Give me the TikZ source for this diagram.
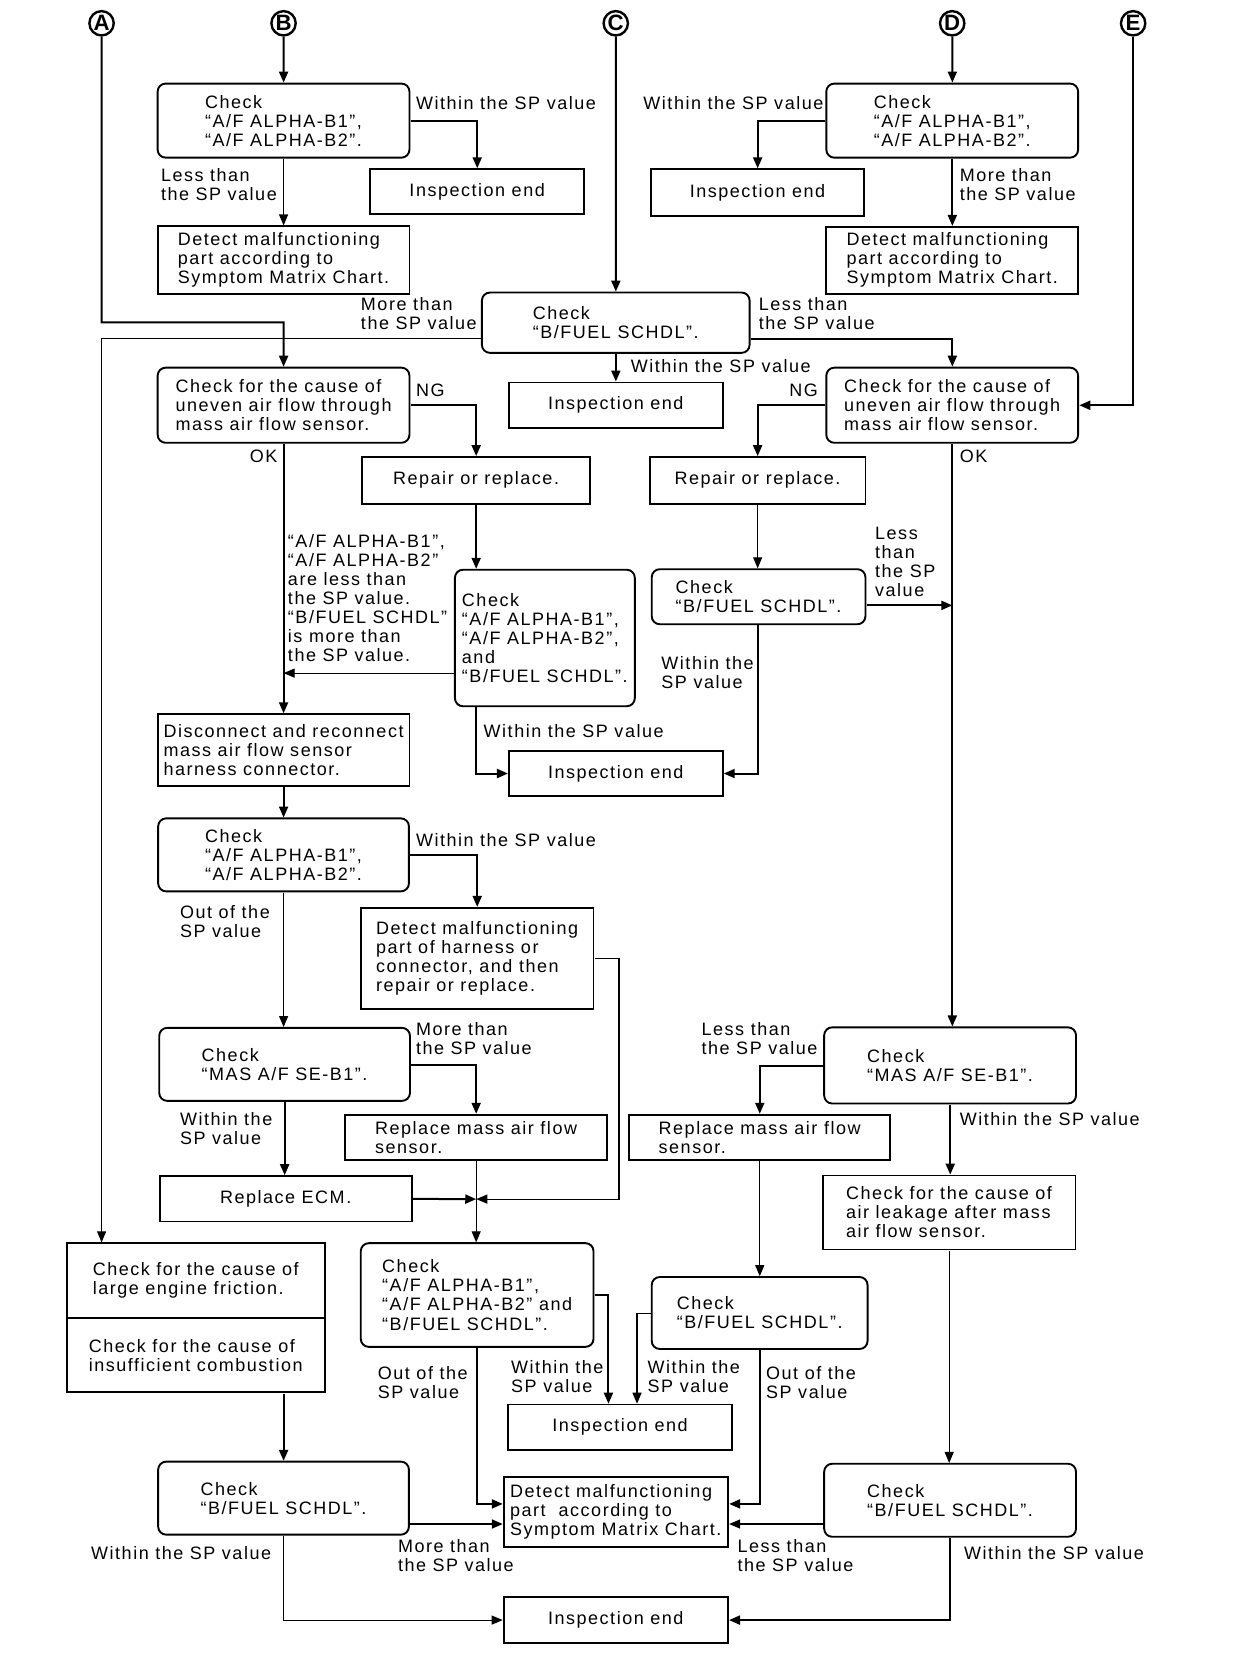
\documentclass[tikz,border=0pt]{standalone}
\usepackage{fontspec}
\setmainfont{Liberation Sans}[LetterSpace=8.5]
\usetikzlibrary{arrows.meta,calc}
\begin{document}
\begin{tikzpicture}[x=1pt,y=-1pt,scale=1.058,
  every node/.append style={transform shape},
  font=\fontsize{17}{18}\selectfont,
  box/.style={draw, line width=1.9pt, align=left, inner xsep=3pt, inner ysep=2pt},
  rbox/.style={box, rounded corners=8pt},
  lab/.style={anchor=north west, align=left, inner sep=0pt},
  arr/.style={line width=2pt, -{Triangle[length=11pt,width=9pt]}},
  tarr/.style={line width=1.1pt, -{Triangle[length=11pt,width=9pt]}},
  circ/.style={circle, draw, line width=2.4pt, minimum size=23pt, inner sep=0pt, font=\fontsize{21}{21}\selectfont\bfseries\addfontfeatures{LetterSpace=0}}]
\useasboundingbox (0,0) rectangle (1179.6,1567.1);
\fill[white] (0,0) rectangle (1179.6,1567.1);

% entry circles
\node[circ] (A) at (96,22) {A};
\node[circ] (B) at (268,22) {B};
\node[circ] (C) at (582,22) {C};
\node[circ] (D) at (900,22) {D};
\node[circ] (E) at (1071,22) {E};

% boxes
\node[rbox, minimum width=238, minimum height=70] (b1) at (268,114) {Check\\“A/F ALPHA-B1”,\\“A/F ALPHA-B2”.};
\node[box, minimum width=202, minimum height=42, align=center] (ie1) at (451,181) {Inspection end};
\node[box, minimum width=238, minimum height=64] (dm1) at (268,246) {Detect malfunctioning\\part according to\\Symptom Matrix Chart.};
\node[rbox, minimum width=238, minimum height=70] (d1) at (900,114) {Check\\“A/F ALPHA-B1”,\\“A/F ALPHA-B2”.};
\node[box, minimum width=202, minimum height=44, align=center] (ie2) at (716,182) {Inspection end};
\node[box, minimum width=238, minimum height=63] (dm2) at (900,246) {Detect malfunctioning\\part according to\\Symptom Matrix Chart.};
\node[rbox, minimum width=253, minimum height=57] (c1) at (582,305) {Check\\“B/FUEL SCHDL”.};
\node[box, minimum width=202, minimum height=43, align=center] (ie3) at (582,383) {Inspection end};
\node[rbox, minimum width=238, minimum height=71] (u1) at (268,383) {Check for the cause of\\uneven air flow through\\mass air flow sensor.};
\node[box, minimum width=216, minimum height=44, align=center] (r1) at (450,454) {Repair or replace.};
\node[rbox, minimum width=238, minimum height=71] (u2) at (900,383) {Check for the cause of\\uneven air flow through\\mass air flow sensor.};
\node[box, minimum width=204, minimum height=44, align=center] (r2) at (716,454) {Repair or replace.};
\node[rbox, minimum width=170, minimum height=129] (c4) at (515,603) {Check\\“A/F ALPHA-B1”,\\“A/F ALPHA-B2”,\\and\\“B/FUEL SCHDL”.};
\node[rbox, minimum width=202, minimum height=52] (c5) at (717,564) {Check\\“B/FUEL SCHDL”.};
\node[box, minimum width=202, minimum height=42, align=center] (ie4) at (582,731) {Inspection end};
\node[box, minimum width=238, minimum height=68] (dc) at (268,709) {Disconnect and reconnect\\mass air flow sensor\\harness connector.};
\node[rbox, minimum width=237, minimum height=69] (c6) at (268,808) {Check\\“A/F ALPHA-B1”,\\“A/F ALPHA-B2”.};
\node[box, minimum width=220, minimum height=96] (dm3) at (451,906) {Detect malfunctioning\\part of harness or\\connector, and then\\repair or replace.};
\node[rbox, minimum width=237, minimum height=69] (mas1) at (269,1006) {Check\\“MAS A/F SE-B1”.};
\node[box, minimum width=247, minimum height=43] (rm1) at (450,1075) {Replace mass air flow\\sensor.};
\node[box, minimum width=238, minimum height=43, align=center] (ecm) at (270,1133) {Replace ECM.};
\node[rbox, minimum width=220, minimum height=98] (c7) at (451,1224) {Check\\“A/F ALPHA-B1”,\\“A/F ALPHA-B2” and\\“B/FUEL SCHDL”.};
\node[box, minimum width=212, minimum height=43, align=center] (ie5) at (586,1349) {Inspection end};
\node[box, minimum width=212, minimum height=66] (dm4) at (582,1429) {Detect malfunctioning\\part\ \ according to\\Symptom Matrix Chart.};
\node[rbox, minimum width=238, minimum height=72] (mas2) at (898,1007) {Check\\“MAS A/F SE-B1”.};
\node[box, minimum width=247, minimum height=43] (rm2) at (718,1075) {Replace mass air flow\\sensor.};
\node[box, minimum width=239, minimum height=70] (al) at (897,1146) {Check for the cause of\\air leakage after mass\\air flow sensor.};
\node[rbox, minimum width=204, minimum height=68] (c8) at (718,1241) {Check\\“B/FUEL SCHDL”.};
\node[rbox, minimum width=238, minimum height=69] (c10) at (898,1418) {Check\\“B/FUEL SCHDL”.};
\node[box, minimum width=212, minimum height=43, align=center] (ie6) at (582,1531) {Inspection end};
\node[box, minimum width=244, minimum height=71] (f1) at (185,1210.5) {Check for the cause of\\large engine friction.};
\node[box, minimum width=244, minimum height=70] (f2) at (185,1281) {Check for the cause of\\insufficient combustion};
\node[rbox, minimum width=237, minimum height=69] (c9) at (268,1416) {Check\\“B/FUEL SCHDL”.};

% helper coordinates
\coordinate (c1r) at ($(c1.east)+(0,15)$);
\coordinate (c1l) at ($(c1.west)+(0,15)$);
\coordinate (aturn) at ($(u1.north)+(0,-42)$);
\coordinate (c4l) at ($(c4.west)+(0,33)$);
\coordinate (c5r) at ($(c5.east)+(0,8)$);
\coordinate (jn) at (rm1.south |- ecm.east);
\coordinate (dm4w1) at ($(dm4.west)+(0,-8)$);
\coordinate (dm4w2) at ($(dm4.west)+(0,11)$);
\coordinate (dm4e1) at ($(dm4.east)+(0,-8)$);
\coordinate (dm4e2) at ($(dm4.east)+(0,11)$);

% connectors
\draw[arr] (B) -- (b1.north);
\draw[arr] (b1.east) -| (ie1.north);
\draw[tarr] (b1.south) -- (dm1.north);
\draw[arr] (D) -- (d1.north);
\draw[arr] (d1.west) -| (ie2.north);
\draw[arr] (d1.south) -- (dm2.north);
\draw[arr] (C) -- (c1.north);
\draw[arr] (c1.south) -- (ie3.north);
\draw[arr] (c1r) -| (u2.north);
\draw[tarr] (c1l) -| (A |- f1.north);
\draw[arr] (A) |- (aturn) -- (u1.north);
\draw[arr] (E) |- (u2.east);
\draw[arr] (u1.east) -| (r1.north);
\draw[arr] (u2.west) -| (r2.north);
\draw[arr] (u1.south) -- (dc.north);
\draw[arr] (r1.south) -- (r1.south |- c4.north);
\draw[tarr] (c4l) -- (c4l -| u1.south);
\draw[arr] (r1.south |- c4.south) |- (ie4.west);
\draw[tarr] (r2.south) -- (r2.south |- c5.north);
\draw[arr] (c5r) -- (c5r -| u2.south);
\draw[arr] (r2.south |- c5.south) |- (ie4.east);
\draw[arr] (u2.south) -- (u2.south |- mas2.north);
\draw[arr] (dc.south) -- (c6.north);
\draw[arr] (c6.east) -| (dm3.north);
\draw[tarr] (c6.south) -- (c6.south |- mas1.north);
\draw[arr] (ecm.east) -- (jn);
\draw[tarr] (dm3.east) -- ++(23,0) |- (jn);
\draw[tarr] (rm1.south) -- (rm1.south |- c7.north);
\draw[arr] (mas1.east) -| (rm1.north);
\draw[arr] (mas1.south) -- (mas1.south |- ecm.north);
\draw[arr] (c7.east) -| ($(ie5.north)+(-11,0)$);
\draw[tarr] (c8.west) -| ($(ie5.north)+(16,0)$);
\draw[arr] (c7.south) |- (dm4w1);
\draw[arr] (c9.east |- dm4w2) -- (dm4w2);
\draw[arr] (c8.south) |- (dm4e1);
\draw[tarr] (c10.west |- dm4e2) -- (dm4e2);
\draw[arr] (mas2.west) -| (rm2.north);
\draw[arr] (mas2.south) -- (mas2.south |- al.north);
\draw[tarr] (rm2.south) -- (rm2.south |- c8.north);
\draw[tarr] (al.south) -- (al.south |- c10.north);
\draw[arr] (c9.north |- f2.south) -- (c9.north);
\draw[tarr] (c9.south) |- (ie6.west);
\draw[arr] (c10.south) |- (ie6.east);

% labels
\node[lab] (l1) at (393,91) {Within the SP value};
\node[lab] (l2) at (152,159) {Less than\\the SP value};
\node[lab] (l3) at (608,91) {Within the SP value};
\node[lab] (l4) at (907,159) {More than\\the SP value};
\node[lab] (l5) at (341,281) {More than\\the SP value};
\node[lab] (l6) at (717,281) {Less than\\the SP value};
\node[lab] (l7) at (596,340) {Within the SP value};
\node[lab] (l8) at (393,363) {NG};
\node[lab] (l9) at (746,363) {NG};
\node[lab] (l10) at (236,425) {OK};
\node[lab] (l11) at (907,425) {OK};
\node[lab] (l12) at (272,505) {“A/F ALPHA-B1”,\\“A/F ALPHA-B2”\\are less than\\the SP value.\\“B/FUEL SCHDL”\\is more than\\the SP value.};
\node[lab] (l13) at (827,498) {Less\\than\\the SP\\value};
\node[lab] (l14) at (625,620) {Within the\\SP value};
\node[lab] (l15) at (457,685) {Within the SP value};
\node[lab] (l16) at (393,788) {Within the SP value};
\node[lab] (l17) at (170,856) {Out of the\\SP value};
\node[lab] (l18) at (393,966) {More than\\the SP value};
\node[lab] (l19) at (170,1051) {Within the\\SP value};
\node[lab] (l20) at (663,966) {Less than\\the SP value};
\node[lab] (l21) at (907,1051) {Within the SP value};
\node[lab] (l22) at (357,1291) {Out of the\\SP value};
\node[lab] (l23) at (483,1286) {Within the\\SP value};
\node[lab] (l24) at (612,1286) {Within the\\SP value};
\node[lab] (l25) at (724,1291) {Out of the\\SP value};
\node[lab] (l26) at (86,1461) {Within the SP value};
\node[lab] (l27) at (376,1455) {More than\\the SP value};
\node[lab] (l28) at (697,1455) {Less than\\the SP value};
\node[lab] (l29) at (911,1461) {Within the SP value};
\end{tikzpicture}
\end{document}
